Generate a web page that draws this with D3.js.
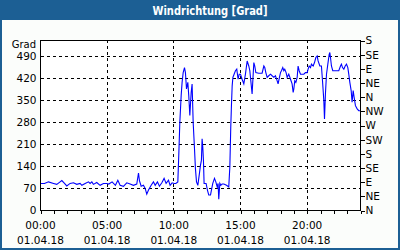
<!DOCTYPE html>
<html><head><meta charset="utf-8">
<script src="https://cdn.jsdelivr.net/npm/d3@7"></script>
<style>html,body{margin:0;padding:0;background:#fff;}svg{display:block;}</style>
</head><body>
<script>
const title = "Windrichtung [Grad]";
const yUnit = "Grad";
const leftTicks = [0, 70, 140, 210, 280, 350, 420, 490];
const rightTicks = [0, 45, 90, 135, 180, 225, 270, 315, 360, 405, 450, 495, 540];
const rightNames = ["N","NE","E","SE","S","SW","W","NW","N","NE","E","SE","S"];
const xLabelHours = [0, 5, 10, 15, 20];
const xTimeLabels = ["00:00","05:00","10:00","15:00","20:00"];
const xDateLabel = "01.04.18";
const hours = [0.0,0.3,0.6,0.98,1.22,1.47,1.6,1.8,1.97,2.22,2.47,2.72,2.97,3.1,3.35,3.6,3.72,3.85,3.97,4.22,4.47,4.72,4.97,5.12,5.37,5.62,5.8,5.97,6.22,6.47,6.72,6.97,7.22,7.35,7.42,7.55,7.72,7.85,7.97,8.1,8.3,8.47,8.6,8.77,8.92,9.1,9.27,9.42,9.6,9.72,9.87,10.02,10.15,10.3,10.37,10.45,10.55,10.62,10.7,10.8,10.87,10.95,11.05,11.12,11.2,11.3,11.37,11.45,11.55,11.62,11.7,11.8,11.92,12.0,12.07,12.12,12.17,12.22,12.27,12.42,12.52,12.62,12.75,12.82,12.92,13.05,13.15,13.25,13.32,13.37,13.45,13.52,13.62,13.75,13.95,14.12,14.2,14.27,14.32,14.375,14.43,14.52,14.62,14.72,14.82,14.9,15.0,15.12,15.25,15.37,15.5,15.62,15.7,15.87,16.0,16.07,16.15,16.37,16.62,16.75,16.82,16.9,17.0,17.12,17.25,17.37,17.5,17.62,17.75,17.82,17.92,18.0,18.07,18.17,18.25,18.32,18.42,18.5,18.62,18.75,18.87,18.95,19.0,19.07,19.15,19.25,19.32,19.4,19.5,19.75,19.87,20.0,20.07,20.15,20.25,20.32,20.45,20.55,20.65,20.75,20.82,20.95,21.07,21.15,21.25,21.3,21.37,21.45,21.55,21.65,21.7,21.75,21.82,21.92,22.25,22.37,22.5,22.57,22.65,22.75,22.85,22.95,23.05,23.12,23.2,23.3,23.37,23.45,23.52,23.62,23.75,23.87,24.0];
const direction = [86,86,91,86,83,91,95,86,78,86,88,83,86,80,86,91,86,91,83,89,80,86,86,84,91,80,96,80,77,88,84,80,84,119,95,77,80,70,52,65,80,91,80,91,77,88,102,86,96,80,88,86,86,91,175,280,365,407,438,454,438,386,407,365,302,375,402,280,196,133,91,80,118,144,160,228,202,160,86,86,65,49,49,65,86,102,91,75,86,36,86,80,84,84,80,75,138,265,333,396,423,433,444,449,417,433,433,417,402,433,475,459,444,370,470,459,438,436,436,459,454,438,423,428,433,428,423,428,412,402,423,438,444,454,444,449,438,423,433,417,402,375,386,412,407,423,459,444,433,433,438,438,449,459,454,465,459,470,486,491,475,459,459,412,349,291,370,433,465,496,502,486,459,444,444,444,459,465,454,449,459,465,454,433,407,381,344,381,360,333,323,317,317];

const W = 400, H = 250;
const blue = "#1c5f94";
const font = "'DejaVu Sans', sans-serif";
const svg = d3.select("body").append("svg").attr("width", W).attr("height", H);

svg.append("rect").attr("x",0).attr("y",0).attr("width",W).attr("height",H).attr("fill",blue);
svg.append("rect").attr("x",2).attr("y",20).attr("width",W-4).attr("height",H-22).attr("fill","#fbfdfb");
svg.append("text").attr("x",210).attr("y",15).attr("text-anchor","middle")
  .attr("font-family",font).attr("font-weight","bold").attr("font-size",11.5)
  .attr("fill","#fff").attr("textLength",115).attr("lengthAdjust","spacingAndGlyphs").text(title);

const x = d3.scaleLinear().domain([0,24]).range([40.5,360.5]);
const y = d3.scaleLinear().domain([0,540]).range([210.5,40.5]);

svg.append("rect").attr("x",40.5).attr("y",40.5).attr("width",320).attr("height",170).attr("fill","#fff");

const grid = svg.append("g").attr("stroke","#000").attr("stroke-dasharray","3,3").attr("shape-rendering","crispEdges");
leftTicks.filter(v=>v>0).forEach(v=>{
  grid.append("line").attr("x1",x(0)).attr("x2",x(24)).attr("y1",y(v)).attr("y2",y(v));
});
xLabelHours.filter(h=>h>0).forEach(h=>{
  grid.append("line").attr("x1",x(h)).attr("x2",x(h)).attr("y1",y(0)).attr("y2",y(540));
});

const line = d3.line().x((d,i)=>x(hours[i])).y(d=>y(d));
svg.append("path").datum(direction).attr("d",line).attr("fill","none")
  .attr("stroke","#0000ff").attr("stroke-width",1.1);

svg.append("rect").attr("x",40.5).attr("y",40.5).attr("width",320).attr("height",170)
  .attr("fill","none").attr("stroke","#000").attr("shape-rendering","crispEdges");

function styleAxis(g){
  g.select(".domain").remove();
  g.selectAll("text").attr("font-family",font).attr("font-size",10.5).attr("fill","#000");
  g.selectAll("line").attr("stroke","#000").attr("shape-rendering","crispEdges");
}
svg.append("g").attr("transform","translate(40.5,0)")
  .call(d3.axisLeft(y).tickValues(leftTicks).tickSize(0).tickPadding(4).tickFormat(d3.format("d")))
  .call(styleAxis);
svg.append("g").attr("transform","translate(360.5,0)")
  .call(d3.axisRight(y).tickValues(rightTicks).tickSize(4).tickPadding(1).tickFormat((d,i)=>rightNames[i]))
  .call(styleAxis);
svg.append("g").attr("transform","translate(0,210.5)")
  .call(d3.axisBottom(x).tickValues(d3.range(0,25)).tickSize(3).tickFormat(""))
  .call(styleAxis);

svg.append("text").attr("x",36).attr("y",47.5).attr("text-anchor","end")
  .attr("font-family",font).attr("font-size",10).text(yUnit);

const xl = svg.append("g").attr("font-family",font).attr("font-size",10.5).attr("text-anchor","middle");
xLabelHours.forEach((h,i)=>{
  xl.append("text").attr("x",x(h)).attr("y",229).text(xTimeLabels[i]);
  xl.append("text").attr("x",x(h)).attr("y",244).text(xDateLabel);
});
</script>
</body></html>
